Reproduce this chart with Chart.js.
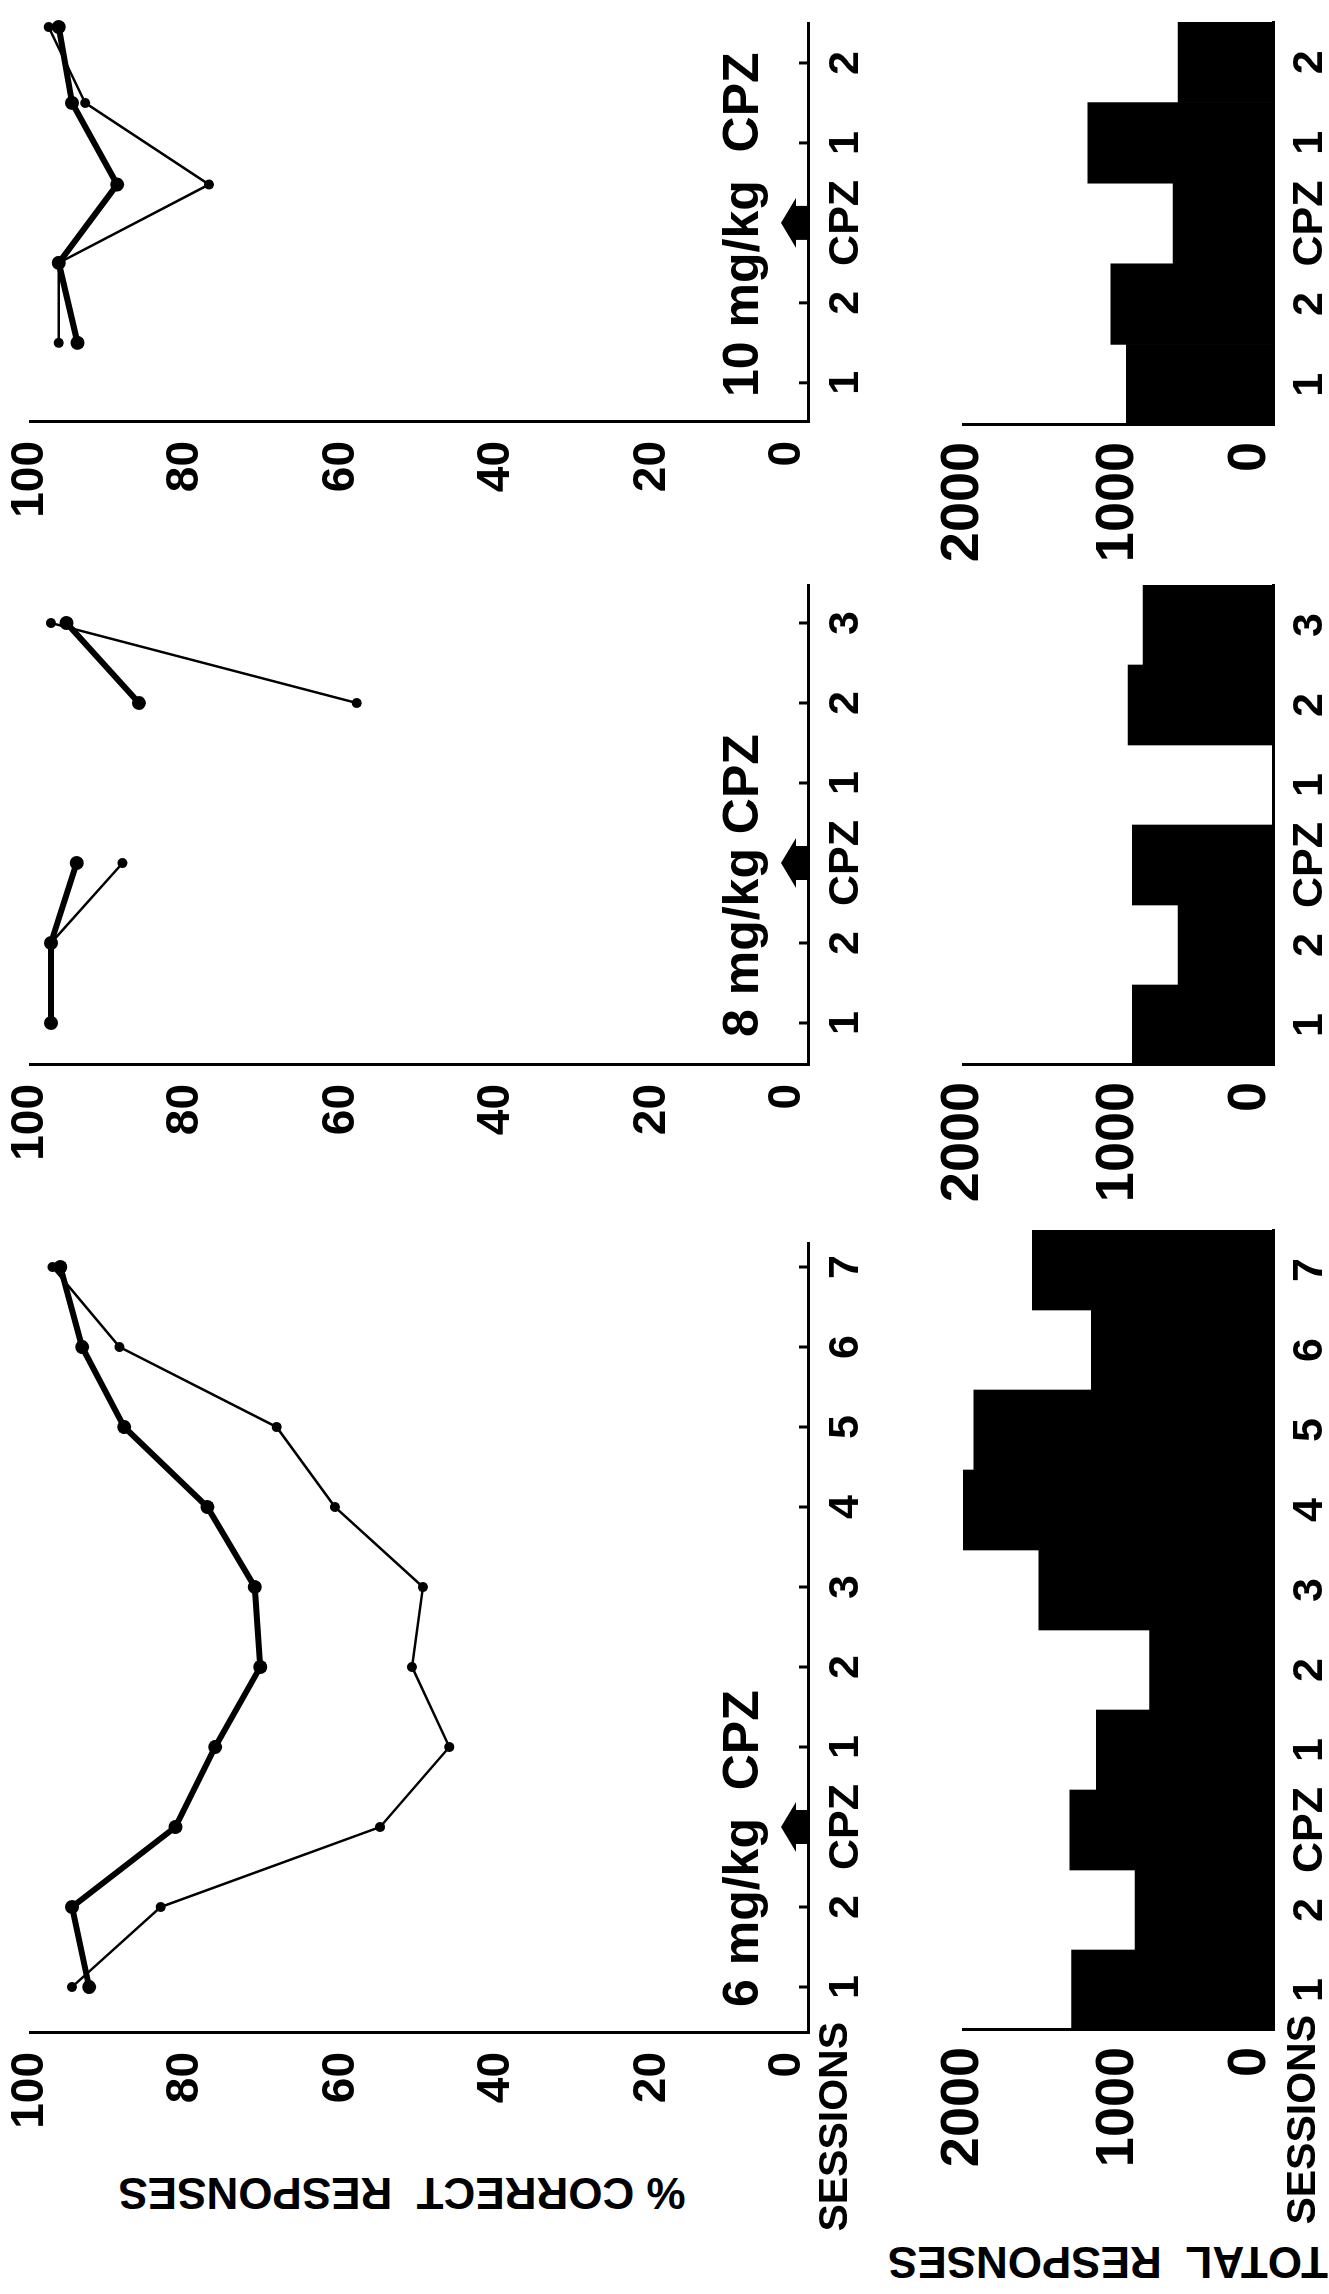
<!DOCTYPE html>
<html>
<head>
<meta charset="utf-8">
<script src="https://cdn.jsdelivr.net/npm/chart.js@4.4.1/dist/chart.umd.min.js"></script>
<style>
    html, body { margin: 0; padding: 0; background: #fff; }
    body { width: 1329px; height: 2294px; overflow: hidden; position: relative; font-family: 'Liberation Sans', Arial, sans-serif; }
    /* the figure is laid out upright and turned a quarter turn, like the scanned page */
    #figure { position: absolute; left: 0; top: 0; width: 2294px; height: 1329px; transform-origin: 0 0; transform: translate(0px, 2294px) rotate(-90deg); }
    #figure canvas { position: absolute; }
    .lbl { position: absolute; font-weight: bold; color: #000; white-space: pre; line-height: 1; z-index: 2; }
    .rot { transform: translate(-50%, -50%) rotate(-90deg); }
</style>
</head>
<body>
<div id="figure">
    <canvas id="line6" width="920" height="903" style="left:151px; top:-15px"></canvas>
    <canvas id="line8" width="610" height="903" style="left:1119px; top:-15px"></canvas>
    <canvas id="line10" width="529" height="903" style="left:1762px; top:-15px"></canvas>
    <canvas id="bar6" width="970" height="435" style="left:114px; top:918px"></canvas>
    <canvas id="bar8" width="650" height="435" style="left:1079px; top:918px"></canvas>
    <canvas id="bar10" width="573" height="435" style="left:1719px; top:918px"></canvas>

    <div class="lbl rot" style="left:101px; top:402px; font-size:44px;">% CORRECT  RESPONSES</div>
    <div class="lbl rot" style="left:32px; top:1108px; font-size:44px;">TOTAL  RESPONSES</div>
    <div class="lbl" style="left:0; width:272px; text-align:right; top:813px; font-size:41px;">SESSIONS</div>
    <div class="lbl" style="left:0; width:279px; text-align:right; top:1281px; font-size:41px;">SESSIONS</div>

    <div class="lbl" style="left:287px; top:716px; font-size:50px;">6 mg/kg  CPZ</div>
    <div class="lbl" style="left:1257px; top:716px; font-size:50px;">8 mg/kg CPZ</div>
    <div class="lbl" style="left:1897px; top:716px; font-size:50px;">10 mg/kg  CPZ</div>
</div>

<script>
Chart.defaults.font.family = "'Liberation Sans', Arial, sans-serif";
Chart.defaults.font.weight = 'bold';
Chart.defaults.color = '#000';

// session labels under each panel
const sessions6 = ['1', '2', 'CPZ', '1', '2', '3', '4', '5', '6', '7'];
const sessions8 = ['1', '2', 'CPZ', '1', '2', '3'];
const sessions10 = ['1', '2', 'CPZ', '1', '2'];

// % correct responses: heavy line and light line
const heavy6 = [92.4, 94.6, 81.3, 76.2, 70.4, 71.1, 77.2, 87.9, 93.3, 96.1];
const light6 = [94.6, 83.2, 55.0, 46.1, 50.9, 49.5, 60.8, 68.3, 88.5, 97.1];
const heavy8 = [97.3, 97.3, 94.0, null, 86.0, 95.3];
const light8 = [97.3, 97.3, 88.1, null, 58.0, 97.3];
// in the 10 mg panel the points sit between the session ticks
const pos10 = [0.5, 1.5, 2.48, 3.5, 4.45];
const heavy10 = [93.9, 96.3, 88.8, 94.6, 96.3];
const light10 = [96.3, 96.3, 77.0, 92.9, 97.6];

// total responses per session
const total6 = [1300, 890, 1310, 1140, 796, 1510, 2010, 1930, 1172, 1553];
const total8 = [908, 613, 908, null, 935, 839];
const total10 = [946, 1047, 645, 1194, 613];

const pctTicks = [0, 20, 40, 60, 80, 100];
const totalTicks = [0, 1000, 2000];

// small tick marks inside the session axis, plus the CPZ arrow
const sessionMarks = {
    id: 'sessionMarks',
    afterDatasetsDraw(chart, args, opts) {
        const { ctx, chartArea } = chart;
        const x = chart.scales.x;
        const b = chartArea.bottom;
        ctx.save();
        ctx.strokeStyle = '#000';
        ctx.fillStyle = '#000';
        ctx.lineWidth = 3;
        x.ticks.forEach(t => {
            const px = x.getPixelForValue(t.value);
            ctx.beginPath();
            ctx.moveTo(px, b);
            ctx.lineTo(px, b - 9);
            ctx.stroke();
        });
        const cx = x.getPixelForValue(opts.cpz);
        ctx.beginPath();
        ctx.moveTo(cx - 17, b);
        ctx.lineTo(cx - 17, b - 12);
        ctx.lineTo(cx - 25, b - 12);
        ctx.lineTo(cx, b - 27);
        ctx.lineTo(cx + 25, b - 12);
        ctx.lineTo(cx + 17, b - 12);
        ctx.lineTo(cx + 17, b);
        ctx.closePath();
        ctx.fill();
        ctx.restore();
    }
};

function zeroUp(v) {
    // lift the 0 label clear of the session labels, as in the original
    return v === 0 ? [String(v), ''] : String(v);
}

function lineChart(id, labels, positions, heavy, light, xMin, xMax) {
    const heavyPts = heavy.map((v, i) => ({ x: positions[i], y: v }));
    const lightPts = light.map((v, i) => ({ x: positions[i], y: v }));

    new Chart(document.getElementById(id), {
        type: 'line',
        data: {
            datasets: [
                {
                    data: heavyPts,
                    borderColor: '#000',
                    backgroundColor: '#000',
                    borderWidth: 6,
                    pointRadius: 7,
                    pointBorderWidth: 0,
                    tension: 0,
                    clip: false
                },
                {
                    data: lightPts,
                    borderColor: '#000',
                    backgroundColor: '#000',
                    borderWidth: 2.5,
                    pointRadius: 5,
                    pointBorderWidth: 0,
                    tension: 0,
                    clip: false
                }
            ]
        },
        options: {
            responsive: false,
            animation: false,
            devicePixelRatio: 1,
            layout: { padding: { top: 45, right: 20, bottom: 0, left: 0 } },
            plugins: {
                legend: { display: false },
                tooltip: { enabled: false },
                sessionMarks: { cpz: 2 }
            },
            scales: {
                x: {
                    type: 'linear',
                    min: xMin,
                    max: xMax,
                    grid: { display: false },
                    border: { display: true, color: '#000', width: 3 },
                    afterFit: s => { s.height = 80; },
                    afterBuildTicks: s => { s.ticks = labels.map((_, i) => ({ value: i })); },
                    ticks: {
                        autoSkip: false,
                        maxRotation: 0,
                        minRotation: 0,
                        padding: 4,
                        font: { size: 43, weight: 'bold' },
                        callback: v => labels[Math.round(v)]
                    }
                },
                y: {
                    min: 0,
                    max: 100,
                    grid: { display: false },
                    border: { display: true, color: '#000', width: 3 },
                    afterFit: s => { s.width = 110; },
                    afterBuildTicks: s => { s.ticks = pctTicks.map(v => ({ value: v })); },
                    ticks: {
                        padding: 11,
                        font: { size: 46, weight: 'bold', lineHeight: 0.88 },
                        callback: zeroUp
                    }
                }
            }
        },
        plugins: [sessionMarks]
    });
}

function barChart(id, labels, totals) {
    new Chart(document.getElementById(id), {
        type: 'bar',
        data: {
            labels: labels,
            datasets: [{
                data: totals,
                backgroundColor: '#000',
                borderWidth: 0,
                barPercentage: 1,
                categoryPercentage: 1
            }]
        },
        options: {
            responsive: false,
            animation: false,
            devicePixelRatio: 1,
            layout: { padding: { top: 45, right: 20, bottom: 0, left: 0 } },
            plugins: {
                legend: { display: false },
                tooltip: { enabled: false }
            },
            scales: {
                x: {
                    grid: { display: false },
                    border: { display: true, color: '#000', width: 3 },
                    afterFit: s => { s.height = 80; },
                    ticks: {
                        autoSkip: false,
                        maxRotation: 0,
                        minRotation: 0,
                        padding: 3,
                        font: { size: 43, weight: 'bold' }
                    }
                },
                y: {
                    min: 0,
                    max: 2000,
                    grid: { display: false },
                    border: { display: true, color: '#000', width: 3 },
                    afterFit: s => { s.width = 150; },
                    afterBuildTicks: s => { s.ticks = totalTicks.map(v => ({ value: v })); },
                    ticks: {
                        padding: 9,
                        font: { size: 54, weight: 'bold', lineHeight: 0.85 },
                        callback: zeroUp
                    }
                }
            }
        }
    });
}

lineChart('line6', sessions6, sessions6.map((_, i) => i), heavy6, light6, -0.575, 9.3);
lineChart('line8', sessions8, sessions8.map((_, i) => i), heavy8, light8, -0.525, 5.475);
lineChart('line10', sessions10, pos10, heavy10, light10, -0.49, 4.5);

barChart('bar6', sessions6, total6);
barChart('bar8', sessions8, total8);
barChart('bar10', sessions10, total10);
</script>
</body>
</html>
